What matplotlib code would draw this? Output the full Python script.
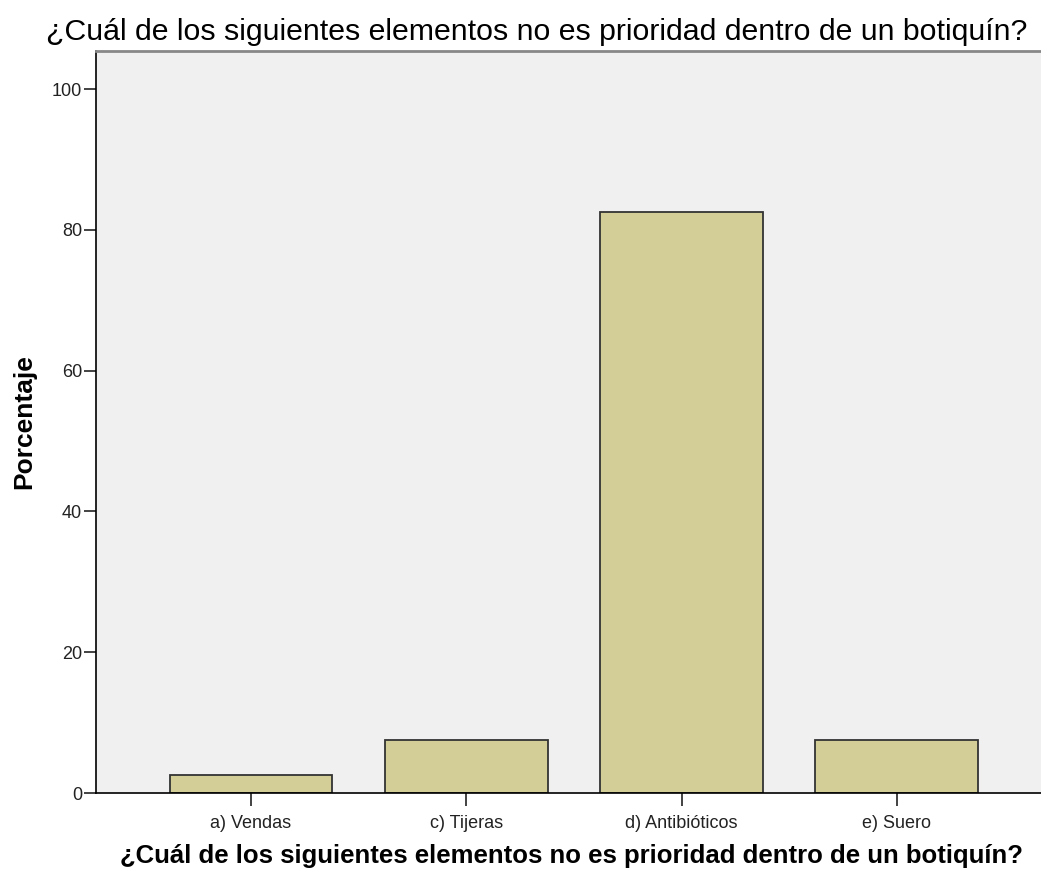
import matplotlib
matplotlib.use('Agg')
import matplotlib.pyplot as plt

# datos
categorias = ['a) Vendas', 'c) Tijeras', 'd) Antibióticos', 'e) Suero']
porcentajes = [2.5, 7.5, 82.5, 7.5]
yticks = [0, 20, 40, 60, 80, 100]
titulo = '¿Cuál de los siguientes elementos no es prioridad dentro de un botiquín?'

plt.rcParams['font.family'] = ['Liberation Sans', 'DejaVu Sans']

W, H = 1041, 876
fig = plt.figure(figsize=(W / 100, H / 100), dpi=100)
ax = fig.add_axes([96 / W, 1 - 793 / H, (W - 96) / W, (793 - 51) / H])
ax.set_facecolor('#f0f0f0')

x = range(len(categorias))
ax.bar(x, porcentajes, width=0.757, color='#d3ce97', edgecolor='#333333', linewidth=1.3)

ax.set_xlim(-0.72, 3.67)
ax.set_ylim(0, 105.4)
ax.set_xticks(list(x))
ax.set_xticklabels(categorias, fontsize=13)
ax.set_yticks(yticks)
ax.set_yticklabels([str(v) for v in yticks], fontsize=13)
ax.tick_params(axis='both', direction='out', length=9, width=1.2, colors='#222222')
ax.tick_params(axis='y', pad=1)
ax.tick_params(axis='x', pad=7)

ax.spines['right'].set_visible(False)
ax.spines['top'].set_color('#888888')
ax.spines['top'].set_linewidth(2)
ax.spines['left'].set_linewidth(1.2)
ax.spines['bottom'].set_linewidth(1.2)

# textos
fig.text(24 / W, 1 - 422 / H, 'Porcentaje', fontsize=19, fontweight='bold',
         rotation=90, ha='center', va='center')
fig.text(572 / W, 1 - 863 / H, titulo, fontsize=18.5, fontweight='bold',
         ha='center', va='baseline')
fig.text(537 / W, 1 - 40 / H, titulo, fontsize=21.8,
         ha='center', va='baseline')

fig.savefig('out.png', dpi=100)
